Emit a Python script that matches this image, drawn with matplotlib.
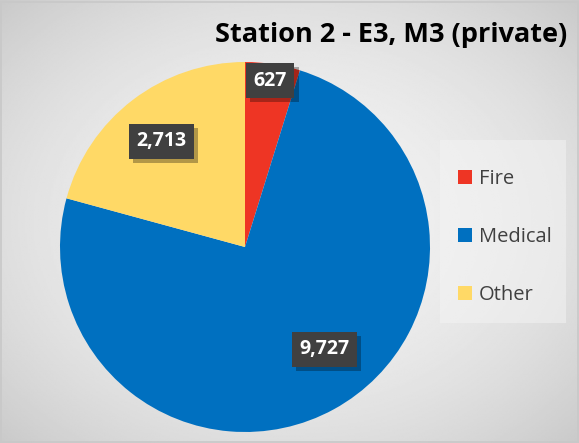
import matplotlib.pyplot as plt
import numpy as np
import matplotlib.patheffects as pe
from matplotlib.patches import Rectangle

categories = ["Fire", "Medical", "Other"]
values = [627, 9727, 2713]
colors = ["#EE3524", "#0070C0", "#FFD966"]
label_r = [0.91, 0.70, 0.73]
label_shift = [0, 9, 1]  # degrees, nudges labels like Excel's best fit
title = "Station 2 - E3, M3 (private)"

plt.rcParams['font.family'] = ['Open Sans', 'DejaVu Sans']

fig = plt.figure(figsize=(5.79, 4.43), dpi=100)

# radial gray background
bg = fig.add_axes([0, 0, 1, 1])
yy, xx = np.mgrid[-1:1:300j, -1:1:400j]
rr = (xx ** 2 + yy ** 2) / 2
shade = 0.95 - 0.16 * rr
bg.imshow(shade, cmap="gray", vmin=0, vmax=1, extent=[0, 1, 0, 1],
          aspect="auto", interpolation="bilinear")
bg.add_patch(Rectangle((0.001, 0.002), 0.997, 0.994, fill=False,
                       edgecolor="#c8c8c8", lw=1.2, transform=bg.transAxes))
bg.set_xlim(0, 1)
bg.set_ylim(0, 1)
bg.axis("off")

# legend panel
bg.add_patch(Rectangle((440 / 579, 1 - 323 / 443), 126 / 579, 183 / 443,
                       facecolor="#f4f4f4", edgecolor="none", alpha=0.5,
                       transform=bg.transAxes))

ax = fig.add_axes([60 / 579, 11 / 443, 370 / 579, 370 / 443])
wedges, _ = ax.pie(values, colors=colors, startangle=90, counterclock=False,
                   radius=1.0, wedgeprops=dict(linewidth=0))
ax.set_xlim(-1, 1)
ax.set_ylim(-1, 1)
ax.set_aspect("equal")
ax.axis("off")

for w, v, r, s in zip(wedges, values, label_r, label_shift):
    ang = np.deg2rad((w.theta1 + w.theta2) / 2 + s)
    t = ax.text(r * np.cos(ang), r * np.sin(ang), f"{v:,}", ha="center",
                va="center", color="white", fontsize=14, fontweight="bold",
                bbox=dict(boxstyle="square,pad=0.38", facecolor="#404040",
                          edgecolor="none"))
    t.get_bbox_patch().set_path_effects(
        [pe.withSimplePatchShadow(offset=(3, -3), shadow_rgbFace="black", alpha=0.3)])

fig.text(0.98, 0.922, title, ha="right", va="center", fontsize=19.5,
         fontweight="bold", color="black")

leg = fig.legend(wedges, categories, loc="center left",
                 bbox_to_anchor=(458 / 579, 1 - 237 / 443), frameon=False,
                 fontsize=14.5, labelcolor="#404040", handlelength=0.7,
                 handleheight=0.7, handletextpad=0.35, labelspacing=1.9,
                 borderpad=0, borderaxespad=0)

fig.savefig("out.png", dpi=100)
